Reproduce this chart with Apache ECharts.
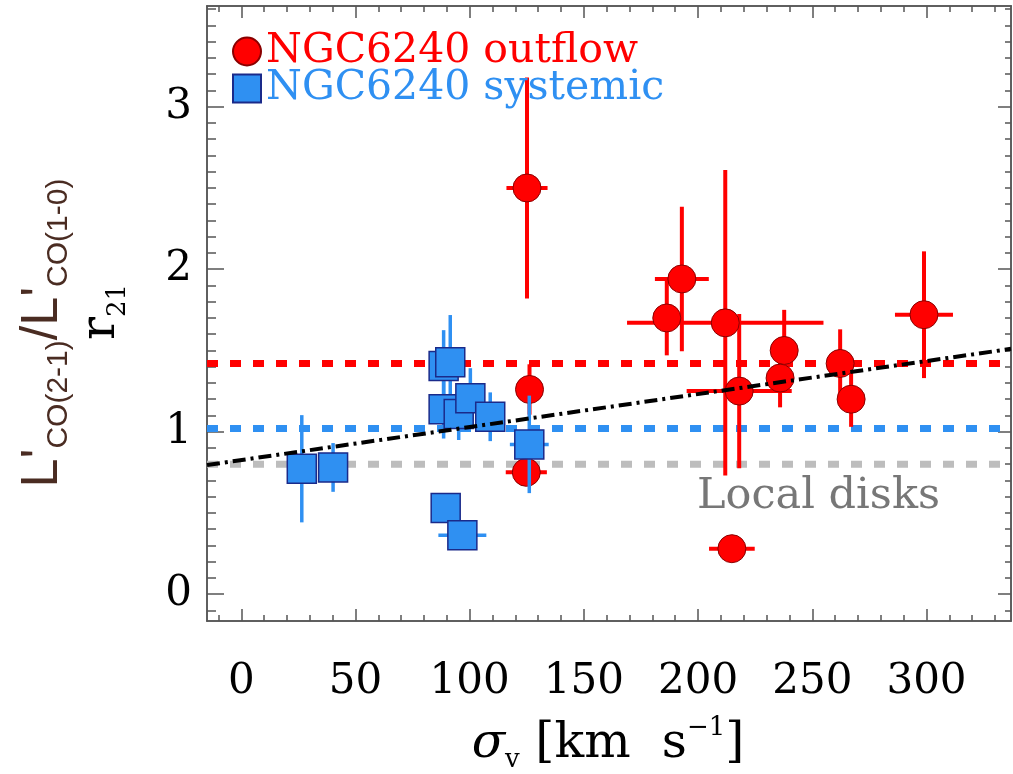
<!DOCTYPE html>
<html>
<head>
<meta charset="utf-8">
<script src="https://cdn.jsdelivr.net/npm/echarts@6/dist/echarts.min.js"></script>
<style>
  html, body { margin: 0; padding: 0; background: #fff; }
  #chart { width: 1013px; height: 774px; }
</style>
</head>
<body>
<div id="chart"></div>
<script>
// NGC6240 outflow (red circles): sigma_v, r21, errors
const outX    = [125.1, 192.9, 186.3, 211.9, 218.0, 237.7, 235.9, 262.2, 267.0, 298.9, 214.8, 126.2, 124.8];
const outY    = [2.50, 1.94, 1.70, 1.67, 1.25, 1.50, 1.33, 1.42, 1.20, 1.72, 0.28, 1.26, 0.75];
const outXErr = [9, 11.8, 0, 43, 23, 0, 0, 0, 0, 12.7, 10, 0, 9];
const outYErr = [0.68, 0.445, 0.23, 0.94, 0.475, 0.25, 0.18, 0.21, 0.17, 0.39, 0, 0.155, 0];

// NGC6240 systemic (blue squares)
const sysX    = [26.5, 40.2, 88.6, 91.5, 88.6, 95.2, 100.3, 109.0, 126.1, 89.5, 96.8];
const sysY    = [0.772, 0.78, 1.405, 1.428, 1.138, 1.109, 1.206, 1.092, 0.922, 0.53, 0.362];
const sysXErr = [0, 0, 0, 0, 0, 0, 0, 0, 8.5, 0, 10.5];
const sysYErr = [0.33, 0.15, 0.22, 0.29, 0.18, 0.16, 0.185, 0.15, 0.3, 0.02, 0.02];

// reference levels and linear fit
const outflowLevel = 1.42;
const systemicLevel = 1.02;
const localDiskLevel = 0.8;
const fitX = [-15, 337];
const fitY = [0.795, 1.51];

// axes
const xMin = -15, xMax = 337;
const yMin = -0.165, yMax = 3.62;
const xTicks = [0, 50, 100, 150, 200, 250, 300];
const yTicks = [0, 1, 2, 3];
const xMinor = [];
for (let v = -10; v <= 330; v += 10) xMinor.push(v);
const yMinor = [];
for (let k = -1; k <= 36; k++) yMinor.push(Math.round(k) / 10);

const RED = '#ff0000';
const BLUE = '#2f90f2';
const AXIS = '#555';
const SERIF = 'DejaVu Serif';

function errBars(xs, ys, xe, ye, color, width, z) {
  return {
    type: 'custom',
    silent: true,
    z: z,
    data: xs.map((x, i) => [x, ys[i], xe[i], ye[i]]),
    encode: { x: 0, y: 1 },
    renderItem: function (params, api) {
      const x = api.value(0), y = api.value(1);
      const dx = api.value(2), dy = api.value(3);
      const children = [];
      if (dy > 0) {
        const a = api.coord([x, y - dy]), b = api.coord([x, y + dy]);
        children.push({ type: 'line', shape: { x1: a[0], y1: a[1], x2: b[0], y2: b[1] },
          style: { stroke: color, lineWidth: width } });
      }
      if (dx > 0) {
        const a = api.coord([x - dx, y]), b = api.coord([x + dx, y]);
        children.push({ type: 'line', shape: { x1: a[0], y1: a[1], x2: b[0], y2: b[1] },
          style: { stroke: color, lineWidth: width } });
      }
      return { type: 'group', children: children };
    }
  };
}

function levelLine(y, color, z) {
  return {
    type: 'line',
    silent: true,
    z: z,
    symbol: 'none',
    data: [[xMin, y], [xMax, y]],
    lineStyle: { color: color, width: 7, type: [11, 12] }
  };
}

function xAxisDef(pos, ticks, len, labels) {
  return {
    type: 'value', min: xMin, max: xMax, position: pos,
    axisLine: { show: true, onZero: false, lineStyle: { color: AXIS, width: 1.5 } },
    splitLine: { show: false },
    axisTick: { show: true, inside: true, length: len, customValues: ticks,
      lineStyle: { color: AXIS, width: 1.5 } },
    axisLabel: labels ? { customValues: ticks, fontFamily: SERIF, fontSize: 42,
      color: '#000', margin: 40 } : { show: false }
  };
}

function yAxisDef(pos, ticks, len, labels) {
  return {
    type: 'value', min: yMin, max: yMax, position: pos,
    axisLine: { show: true, onZero: false, lineStyle: { color: AXIS, width: 1.5 } },
    splitLine: { show: false },
    axisTick: { show: true, inside: true, length: len, customValues: ticks,
      lineStyle: { color: AXIS, width: 1.5 } },
    axisLabel: labels ? { customValues: ticks, fontFamily: SERIF, fontSize: 42,
      color: '#000', margin: 15 } : { show: false }
  };
}

const chart = echarts.init(document.getElementById('chart'));
chart.setOption({
  animation: false,
  backgroundColor: '#fff',
  grid: { left: 207, right: 2, top: 6, bottom: 153, containLabel: false, outerBoundsMode: 'none' },
  legend: {
    orient: 'vertical', left: 232, top: 31, padding: 0,
    itemWidth: 28, itemHeight: 28, itemGap: -4,
    textStyle: { fontFamily: SERIF, fontSize: 41, lineHeight: 38 },
    data: [
      { name: 'NGC6240 outflow', textStyle: { color: RED } },
      { name: 'NGC6240 systemic', textStyle: { color: BLUE } }
    ]
  },
  xAxis: [
    xAxisDef('bottom', xTicks, 12, true),
    xAxisDef('bottom', xMinor, 6, false),
    xAxisDef('top', xTicks, 12, false),
    xAxisDef('top', xMinor, 6, false)
  ],
  yAxis: [
    yAxisDef('left', yTicks, 17, true),
    yAxisDef('left', yMinor, 9, false),
    yAxisDef('right', yTicks, 13, false),
    yAxisDef('right', yMinor, 6, false)
  ],
  graphic: [
    {
      type: 'text', x: 43, y: 333, rotation: Math.PI / 2,
      style: {
        text: "{m|L'}{s|CO(2-1)}{m|/L'}{s|CO(1-0)}",
        align: 'center', verticalAlign: 'middle',
        rich: {
          m: { fontFamily: 'Liberation Sans', fontSize: 52, lineHeight: 62, verticalAlign: 'middle', fill: '#4a2c22' },
          s: { fontFamily: 'Liberation Sans', fontSize: 30, lineHeight: 30, verticalAlign: 'bottom', fill: '#4a2c22' }
        }
      }
    },
    {
      type: 'text', x: 102, y: 312, rotation: Math.PI / 2,
      style: {
        text: '{m|r}{s|21}',
        align: 'center', verticalAlign: 'middle',
        rich: {
          m: { fontFamily: SERIF, fontSize: 48, lineHeight: 58, verticalAlign: 'middle', fill: '#000' },
          s: { fontFamily: SERIF, fontSize: 26, lineHeight: 26, verticalAlign: 'bottom', fill: '#000' }
        }
      }
    },
    {
      type: 'text', x: 608, y: 744,
      style: {
        text: '{g|σ}{s|v}{m| [km  s}{p|−1}{m|]}',
        align: 'center', verticalAlign: 'middle',
        rich: {
          g: { fontFamily: SERIF, fontStyle: 'italic', fontSize: 49, lineHeight: 58, verticalAlign: 'middle', fill: '#000' },
          m: { fontFamily: SERIF, fontSize: 49, lineHeight: 58, verticalAlign: 'middle', fill: '#000' },
          s: { fontFamily: SERIF, fontSize: 26, lineHeight: 26, verticalAlign: 'bottom', fill: '#000' },
          p: { fontFamily: SERIF, fontSize: 26, lineHeight: 26, verticalAlign: 'top', fill: '#000' }
        }
      }
    },
    {
      type: 'text', x: 697, y: 497,
      style: {
        text: 'Local disks', fontFamily: SERIF, fontSize: 43,
        fill: '#777', align: 'left', verticalAlign: 'middle'
      }
    }
  ],
  series: [
    levelLine(localDiskLevel, '#bdbdbd', 1),
    levelLine(systemicLevel, BLUE, 1),
    levelLine(outflowLevel, RED, 1),
    errBars(outX, outY, outXErr, outYErr, RED, 4, 2),
    {
      name: 'NGC6240 outflow', type: 'scatter', z: 3,
      symbol: 'circle', symbolSize: 28,
      itemStyle: { color: RED, borderColor: '#8a0000', borderWidth: 1, opacity: 1 },
      data: outX.map((x, i) => [x, outY[i]])
    },
    errBars(sysX, sysY, sysXErr, sysYErr, BLUE, 3.5, 4),
    {
      name: 'NGC6240 systemic', type: 'scatter', z: 5,
      symbol: 'rect', symbolSize: 29,
      itemStyle: { color: BLUE, borderColor: '#1a2a8a', borderWidth: 1.5, opacity: 1 },
      data: sysX.map((x, i) => [x, sysY[i]])
    },
    {
      type: 'line', silent: true, z: 6, symbol: 'none',
      data: fitX.map((x, i) => [x, fitY[i]]),
      lineStyle: { color: '#000', width: 4, type: [13, 5, 3, 5] }
    }
  ]
});
</script>
</body>
</html>
